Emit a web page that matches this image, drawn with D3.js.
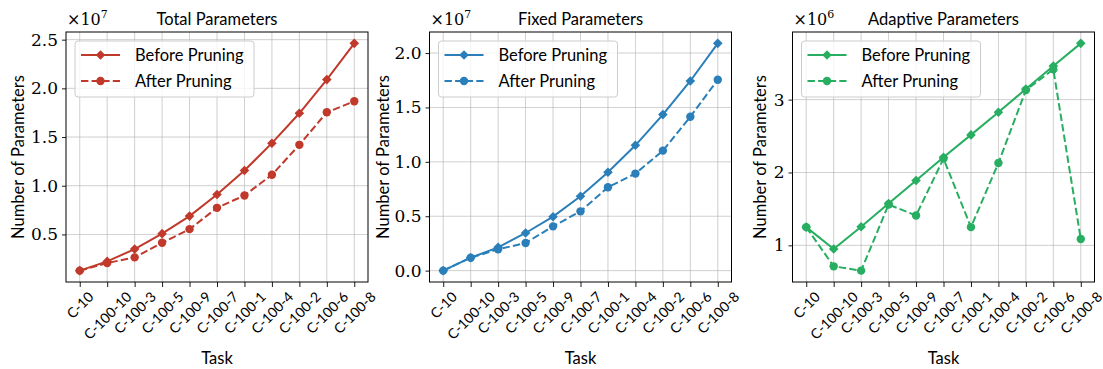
<!DOCTYPE html>
<html><head><meta charset="utf-8">
<script src="https://cdn.jsdelivr.net/npm/d3@7"></script>
<style>
body{margin:0;background:#fff;}
svg{display:block;}
</style></head>
<body><svg id="c" width="1103" height="369"></svg>
<script>
const tasks = ["C-10","C-100-10","C-100-3","C-100-5","C-100-9","C-100-7","C-100-1","C-100-4","C-100-2","C-100-6","C-100-8"];
const totalBefore = [1.28e6,2.23e6,3.49e6,5.08e6,6.88e6,9.10e6,1.156e7,1.437e7,1.744e7,2.090e7,2.462e7];
const totalAfter  = [1.28e6,2.06e6,2.64e6,4.14e6,5.54e6,7.73e6,9.00e6,1.112e7,1.420e7,1.754e7,1.867e7];
const fixedBefore = [0,1.19e6,2.14e6,3.46e6,4.96e6,6.83e6,9.04e6,1.152e7,1.434e7,1.743e7,2.089e7];
const fixedAfter  = [0,1.19e6,1.96e6,2.54e6,4.07e6,5.45e6,7.66e6,8.92e6,1.103e7,1.415e7,1.755e7];
const adaptBefore = [1.25e6,0.95e6,1.256e6,1.575e6,1.89e6,2.21e6,2.516e6,2.826e6,3.146e6,3.461e6,3.772e6];
const adaptAfter  = [1.25e6,0.712e6,0.653e6,1.56e6,1.41e6,2.19e6,1.25e6,2.13e6,3.13e6,3.415e6,1.087e6];
const titles = ["Total Parameters","Fixed Parameters","Adaptive Parameters"];
const yTicks = [[0.5,1.0,1.5,2.0,2.5],[0.0,0.5,1.0,1.5,2.0],[1,2,3]];
const yTickFmt = ["0.1f","0.1f","d"];
const exponents = [7,7,6];
const legendLabels = ["Before Pruning","After Pruning"];
const colors = ["#c0392b","#2a7fba","#27ae60"];

(function(){
const panels = [
  {x0:66, x1:368, ylab:18, before:totalBefore, after:totalAfter},
  {x0:429.5, x1:731.5, ylab:383, before:fixedBefore, after:fixedAfter},
  {x0:792.5, x1:1094.5, ylab:760, before:adaptBefore, after:adaptAfter}
];
const pTop=32, pBot=282;
const sans = "Lato, 'DejaVu Sans', sans-serif";
const serif = "'DejaVu Serif', 'Liberation Serif', serif";
const fs = 16.5;
const svg = d3.select("#c");

panels.forEach((p,i)=>{
  const scale = Math.pow(10, exponents[i]);
  const all = p.before.concat(p.after).map(v=>v/scale);
  const mn = d3.min(all), mx = d3.max(all), pad=(mx-mn)*0.05;
  const y = d3.scaleLinear().domain([mn-pad, mx+pad]).range([pBot, pTop]);
  const x = d3.scalePoint().domain(tasks).range([p.x0, p.x1]).padding(0.5);
  const g = svg.append("g");
  const col = colors[i];

  g.selectAll(".gx").data(tasks).join("line")
    .attr("x1",d=>x(d)).attr("x2",d=>x(d)).attr("y1",pTop).attr("y2",pBot)
    .attr("stroke","#b0b0b0").attr("stroke-width",0.8).attr("opacity",0.75);
  g.selectAll(".gy").data(yTicks[i]).join("line")
    .attr("x1",p.x0).attr("x2",p.x1).attr("y1",d=>y(d)).attr("y2",d=>y(d))
    .attr("stroke","#b0b0b0").attr("stroke-width",0.8).attr("opacity",0.75);

  const ya = d3.axisLeft(y).tickValues(yTicks[i]).tickFormat(d3.format(yTickFmt[i])).tickSize(4).tickPadding(4);
  const yg = g.append("g").attr("transform",`translate(${p.x0},0)`).call(ya);
  yg.select(".domain").remove();
  yg.selectAll("line").attr("stroke","#000").attr("stroke-width",0.9);
  yg.selectAll("text").attr("font-family",serif).attr("font-size",17).attr("fill","#000");

  const xa = d3.axisBottom(x).tickSize(5).tickFormat("");
  const xg = g.append("g").attr("transform",`translate(0,${pBot})`).call(xa);
  xg.select(".domain").remove();
  xg.selectAll("line").attr("stroke","#000").attr("stroke-width",0.9);
  tasks.forEach(t=>{
    const tx = g.append("text").text(t).attr("font-family",sans).attr("font-size",14)
      .attr("text-anchor","middle").attr("dominant-baseline","central").attr("fill","#000");
    const w = tx.node().getComputedTextLength(), h = 11;
    const half = (w+h)/(2*Math.SQRT2);
    const cx = x(t), cy = pBot + 8 + half;
    tx.attr("transform",`translate(${cx},${cy}) rotate(-45)`);
  });

  g.append("rect").attr("x",p.x0).attr("y",pTop).attr("width",p.x1-p.x0).attr("height",pBot-pTop)
    .attr("fill","none").attr("stroke","#000").attr("stroke-width",1);

  const line = d3.line().x((d,j)=>x(tasks[j])).y(d=>y(d/scale));
  g.append("path").datum(p.before).attr("d",line).attr("fill","none").attr("stroke",col).attr("stroke-width",2);
  g.append("path").datum(p.after).attr("d",line).attr("fill","none").attr("stroke",col).attr("stroke-width",2).attr("stroke-dasharray","7.4,3.2");
  const diamond = d3.symbol().type(d3.symbolSquare).size(46);
  g.selectAll(".mb").data(p.before).join("path")
    .attr("d",diamond()).attr("fill",col)
    .attr("transform",(d,j)=>`translate(${x(tasks[j])},${y(d/scale)}) rotate(45)`);
  g.selectAll(".ma").data(p.after).join("circle")
    .attr("cx",(d,j)=>x(tasks[j])).attr("cy",d=>y(d/scale)).attr("r",4.2).attr("fill",col);

  const mt = g.append("text").attr("x",p.x0+1).attr("y",pTop-7).attr("font-family",serif).attr("font-size",16).attr("fill","#000");
  mt.append("tspan").text("×10");
  mt.append("tspan").text(exponents[i]).attr("font-size",11).attr("dy",-7);

  g.append("text").text(titles[i]).attr("x",(p.x0+p.x1)/2).attr("y",pTop-7).attr("text-anchor","middle")
    .attr("font-family",sans).attr("font-size",fs).attr("fill","#000");

  g.append("text").text("Task").attr("x",(p.x0+p.x1)/2).attr("y",364).attr("text-anchor","middle")
    .attr("font-family",sans).attr("font-size",fs).attr("fill","#000");
  g.append("text").text("Number of Parameters").attr("transform",`translate(${p.ylab},${(pTop+pBot)/2}) rotate(-90)`)
    .attr("text-anchor","middle").attr("dominant-baseline","central")
    .attr("font-family",sans).attr("font-size",fs).attr("fill","#000");

  const lx = p.x0+9, ly = pTop+9;
  const lg = g.append("g");
  lg.append("rect").attr("x",lx).attr("y",ly).attr("width",179).attr("height",56).attr("rx",3)
    .attr("fill","#fff").attr("fill-opacity",0.8).attr("stroke","#cccccc").attr("stroke-width",1);
  legendLabels.forEach((lab,k)=>{
    const yy = ly + 14 + k*26;
    lg.append("line").attr("x1",lx+6).attr("x2",lx+45).attr("y1",yy).attr("y2",yy)
      .attr("stroke",col).attr("stroke-width",2).attr("stroke-dasharray",k? "7.4,3.2":null);
    if(k===0) lg.append("path").attr("d",diamond()).attr("fill",col).attr("transform",`translate(${lx+25.5},${yy}) rotate(45)`);
    else lg.append("circle").attr("cx",lx+25.5).attr("cy",yy).attr("r",4.2).attr("fill",col);
    lg.append("text").text(lab).attr("x",lx+60).attr("y",yy).attr("dominant-baseline","central")
      .attr("font-family",sans).attr("font-size",fs).attr("fill","#000");
  });
});
})();
</script></body></html>
